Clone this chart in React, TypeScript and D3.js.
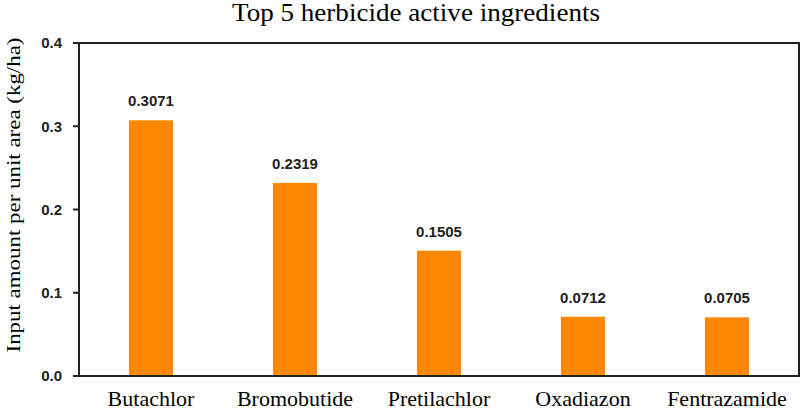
import React from "react";
import * as d3 from "d3";

const categories = ["Butachlor", "Bromobutide", "Pretilachlor", "Oxadiazon", "Fentrazamide"];
const values = [0.3071, 0.2319, 0.1505, 0.0712, 0.0705];
const yTicks = [0, 0.1, 0.2, 0.3, 0.4];
const title = "Top 5 herbicide active ingredients";
const yLabel = "Input amount per unit area (kg/ha)";

export default function App() {
  const W = 800, H = 409;
  const left = 79, right = 799, top = 43, bottom = 376;
  const x = d3.scaleBand<string>().domain(categories).range([left, right]).paddingInner(0.694).paddingOuter(0.347);
  const y = d3.scaleLinear().domain([0, 0.4]).range([bottom, top]);
  const sans = "'Liberation Sans', Arial, sans-serif";
  const serif = "'Liberation Serif', 'Times New Roman', serif";
  return (
    <svg width={W} height={H} style={{ position: "absolute", left: 0, top: 0, background: "#fff" }}>
      <text x={416} y={21} textAnchor="middle" fontFamily={serif} fontSize={25} textLength={368} lengthAdjust="spacingAndGlyphs" fill="#000">{title}</text>
      <text transform={`translate(20,195) rotate(-90)`} textAnchor="middle" fontFamily={serif} fontSize={18} textLength={315} lengthAdjust="spacingAndGlyphs" fill="#000">{yLabel}</text>
      {categories.map((c, i) => (
        <g key={c}>
          <rect x={x(c)} y={y(values[i])} width={x.bandwidth()} height={bottom - y(values[i])} fill="#ff8600" />
          <text x={(x(c) as number) + x.bandwidth() / 2} y={y(values[i]) - 14} textAnchor="middle" fontFamily={sans} fontWeight="bold" fontSize={15} fill="#222">{values[i].toFixed(4)}</text>
          <text x={(x(c) as number) + x.bandwidth() / 2} y={406} textAnchor="middle" fontFamily={serif} fontSize={22} fill="#000">{c}</text>
        </g>
      ))}
      <rect x={left} y={top} width={right - left} height={bottom - top} fill="none" stroke="#222" strokeWidth={2} />
      {yTicks.map((t) => (
        <g key={t}>
          <line x1={left - 6} x2={left} y1={y(t)} y2={y(t)} stroke="#222" strokeWidth={2} />
          <text x={62} y={y(t)} dy="0.36em" textAnchor="end" fontFamily={sans} fontWeight="bold" fontSize={15} fill="#222">{t.toFixed(1)}</text>
        </g>
      ))}
    </svg>
  );
}
